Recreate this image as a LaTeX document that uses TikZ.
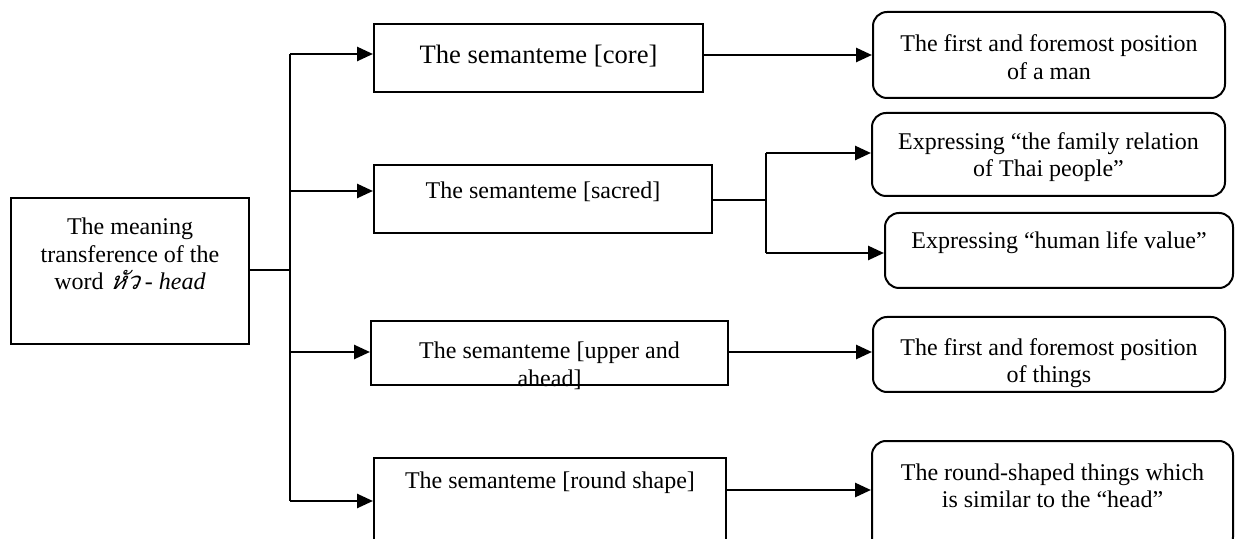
\documentclass[tikz,border=0pt]{standalone}
\usepackage{fontspec}
\setmainfont{Liberation Serif}
\newfontfamily\thaifont[Script=Thai,FakeSlant=0.2]{Loma}
\usetikzlibrary{arrows.meta}
\begin{document}
\begin{tikzpicture}[x=0.5pt,y=-0.5pt,
  sq/.style={draw, line width=1pt, inner sep=0pt},
  rd/.style={draw, line width=1pt, rounded corners=7pt, inner sep=0pt},
  txt/.style={align=center, inner sep=0pt, font=\fontsize{12}{13.75}\selectfont},
  ln/.style={line width=0.9pt},
  arr/.style={line width=1.3pt, -{Triangle[length=8pt,width=7pt]}}]
\useasboundingbox (0,0) rectangle (1236,539);
% left box
\node[sq, minimum width=119pt, minimum height=73pt] (left) at (130,271) {};
\node[txt] (leftt) at (130,254) {The meaning\\transference of the\\word {\thaifont\itshape หัว} - \textit{head}};
% semanteme boxes
\node[sq, minimum width=164.5pt, minimum height=34pt] (core) at (538.5,58) {};
\node[txt, font=\fontsize{13.3}{15}\selectfont] (coret) at (538.5,56) {The semanteme [core]};
\node[sq, minimum width=169pt, minimum height=34pt] (sacred) at (543,199) {};
\node[txt] (sacredt) at (543,192) {The semanteme [sacred]};
\node[sq, minimum width=178.5pt, minimum height=32pt] (upper) at (549.5,353) {};
\node[txt] (uppert) at (549.5,366) {The semanteme [upper and\\ahead]};
\node[sq, minimum width=176pt, minimum height=41pt] (round) at (550,499) {};
\node[txt] (roundt) at (550,483) {The semanteme [round shape]};
% result boxes
\node[rd, minimum width=176pt, minimum height=43pt] (r1) at (1049,55) {};
\node[txt] (r1t) at (1049,57) {The first and foremost position\\of a man};
\node[rd, minimum width=176.5pt, minimum height=41.5pt] (r2) at (1048.5,154.5) {};
\node[txt] (r2t) at (1048.5,157) {Expressing “the family relation\\of Thai people”};
\node[rd, minimum width=174pt, minimum height=37.5pt] (r3) at (1059,250.5) {};
\node[txt] (r3t) at (1059,243) {Expressing “human life value”};
\node[rd, minimum width=176pt, minimum height=37.5pt] (r4) at (1049,354.5) {};
\node[txt] (r4t) at (1049,363) {The first and foremost position\\of things};
\node[rd, minimum width=180.5pt, minimum height=55pt] (r5) at (1052.5,496) {};
\node[txt] (r5t) at (1052.5,486) {The round-shaped things which\\is similar to the “head”};
% spine
\coordinate (jL) at (290,270);
\coordinate (s1) at (290,54);
\coordinate (s2) at (290,191);
\coordinate (s3) at (290,352);
\coordinate (s4) at (290,501);
\draw[ln] (left.east |- jL) -- (jL);
\draw[line width=1.3pt] (s1) -- (s4);
\draw[arr] (s1) -- (s1 -| core.west);
\draw[arr] (s2) -- (s2 -| sacred.west);
\draw[arr] (s3) -- (s3 -| upper.west);
\draw[arr] (s4) -- (s4 -| round.west);
% second level
\coordinate (c1) at (703,55);
\draw[arr] (c1) -- (c1 -| r1.west);
\coordinate (jS) at (766,200);
\coordinate (t1) at (766,153);
\coordinate (t2) at (766,253);
\draw[ln] (sacred.east |- jS) -- (jS);
\draw[line width=1.3pt] (t1) -- (t2);
\draw[arr] (t1) -- (t1 -| r2.west);
\draw[arr] (t2) -- (t2 -| r3.west);
\coordinate (c3) at (728,352);
\draw[arr] (c3) -- (c3 -| r4.west);
\coordinate (c4) at (726,490);
\draw[arr] (c4) -- (c4 -| r5.west);
\end{tikzpicture}
\end{document}
